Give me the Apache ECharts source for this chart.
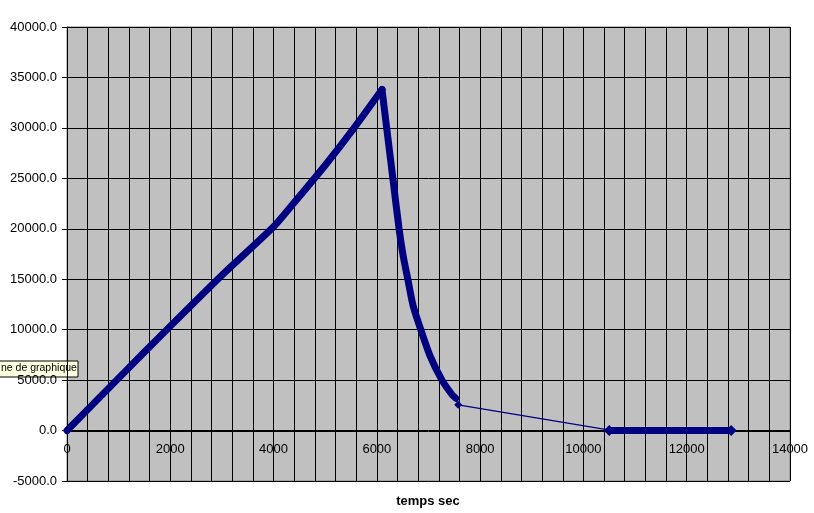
<!DOCTYPE html>
<html>
<head>
<meta charset="utf-8">
<script src="https://cdn.jsdelivr.net/npm/echarts@6/dist/echarts.min.js"></script>
<style>html,body{margin:0;padding:0;background:#fff;}#c{width:814px;height:513px;}</style>
</head>
<body>
<div id="c"></div>
<script>
// Data
const rise = [[0,0],[1000,5200],[2000,10350],[3000,15400],[4000,20200],[4400,22600],[5000,26300],[5560,30000],[6100,33800]];
const fall = [[6100,33800],[6190,30000],[6310,25000],[6430,20000],[6510,17300],[6600,15000],[6700,12400],[6850,10000],[7030,7400],[7250,5100],[7450,3600],[7530,3200]];
const tail = [[7530,3200],[7575,2550],[10480,60]];
const plateau = [[10500,0],[12860,0]];
const xTitle = 'temps sec';
const tipText = 'ne de graphique';

const chart = echarts.init(document.getElementById('c'));
const font = 'Liberation Sans, Arial, sans-serif';
const navy = '#000080';
chart.setOption({
  animation: false,
  grid: {left: 67, right: 24, top: 27, bottom: 32, show: true, backgroundColor: '#C0C0C0', borderColor: '#808080', borderWidth: 1, outerBoundsMode: 'none'},
  xAxis: {
    type: 'value', min: 0, max: 14000, interval: 400, position: 'bottom', offset: -50,
    axisLine: {onZero: false, lineStyle: {color: '#000', width: 1}},
    axisTick: {show: true, length: 5, lineStyle: {color: '#000'}},
    axisLabel: {color: '#000', fontFamily: font, fontSize: 13, margin: 12,
      formatter: v => (v % 2000 === 0 ? String(v) : '')},
    splitLine: {show: true, lineStyle: {color: '#000', width: 1}}
  },
  yAxis: {
    type: 'value', min: -5000, max: 40000, interval: 5000,
    axisLine: {show: true, lineStyle: {color: '#000', width: 1}},
    axisTick: {show: true, length: 5, lineStyle: {color: '#000'}},
    axisLabel: {color: '#000', fontFamily: font, fontSize: 13, margin: 10,
      formatter: v => v.toFixed(1)},
    splitLine: {show: true, lineStyle: {color: '#000', width: 1}}
  },
  series: [
    {type: 'line', data: rise, symbol: 'none', smooth: 0.2, lineStyle: {color: navy, width: 7, cap: 'round'}, z: 3},
    {type: 'line', data: fall, symbol: 'none', smooth: 0.2, lineStyle: {color: navy, width: 7, cap: 'round'}, z: 3},
    {type: 'line', data: tail.map((p, i) => ({value: p, symbol: i === 1 ? 'diamond' : 'none', symbolSize: 8})),
      lineStyle: {color: navy, width: 1.2}, itemStyle: {color: navy}, z: 3},
    {type: 'line', data: plateau, symbol: 'diamond', symbolSize: 11, lineStyle: {color: navy, width: 7}, itemStyle: {color: navy}, z: 3}
  ],
  graphic: [
    {type: 'text', x: 428, y: 495, z: 10, style: {text: xTitle, font: 'bold 13px ' + font, fill: '#000', textAlign: 'center', textVerticalAlign: 'top'}},
    {type: 'group', z: 100, children: [
      {type: 'rect', shape: {x: -1, y: 361, width: 79, height: 16}, style: {fill: '#FFFFE1', stroke: '#000', lineWidth: 1}},
      {type: 'text', x: 1, y: 363, style: {text: tipText, font: '10.5px ' + font, fill: '#000'}}
    ]}
  ]
});
</script>
</body>
</html>
